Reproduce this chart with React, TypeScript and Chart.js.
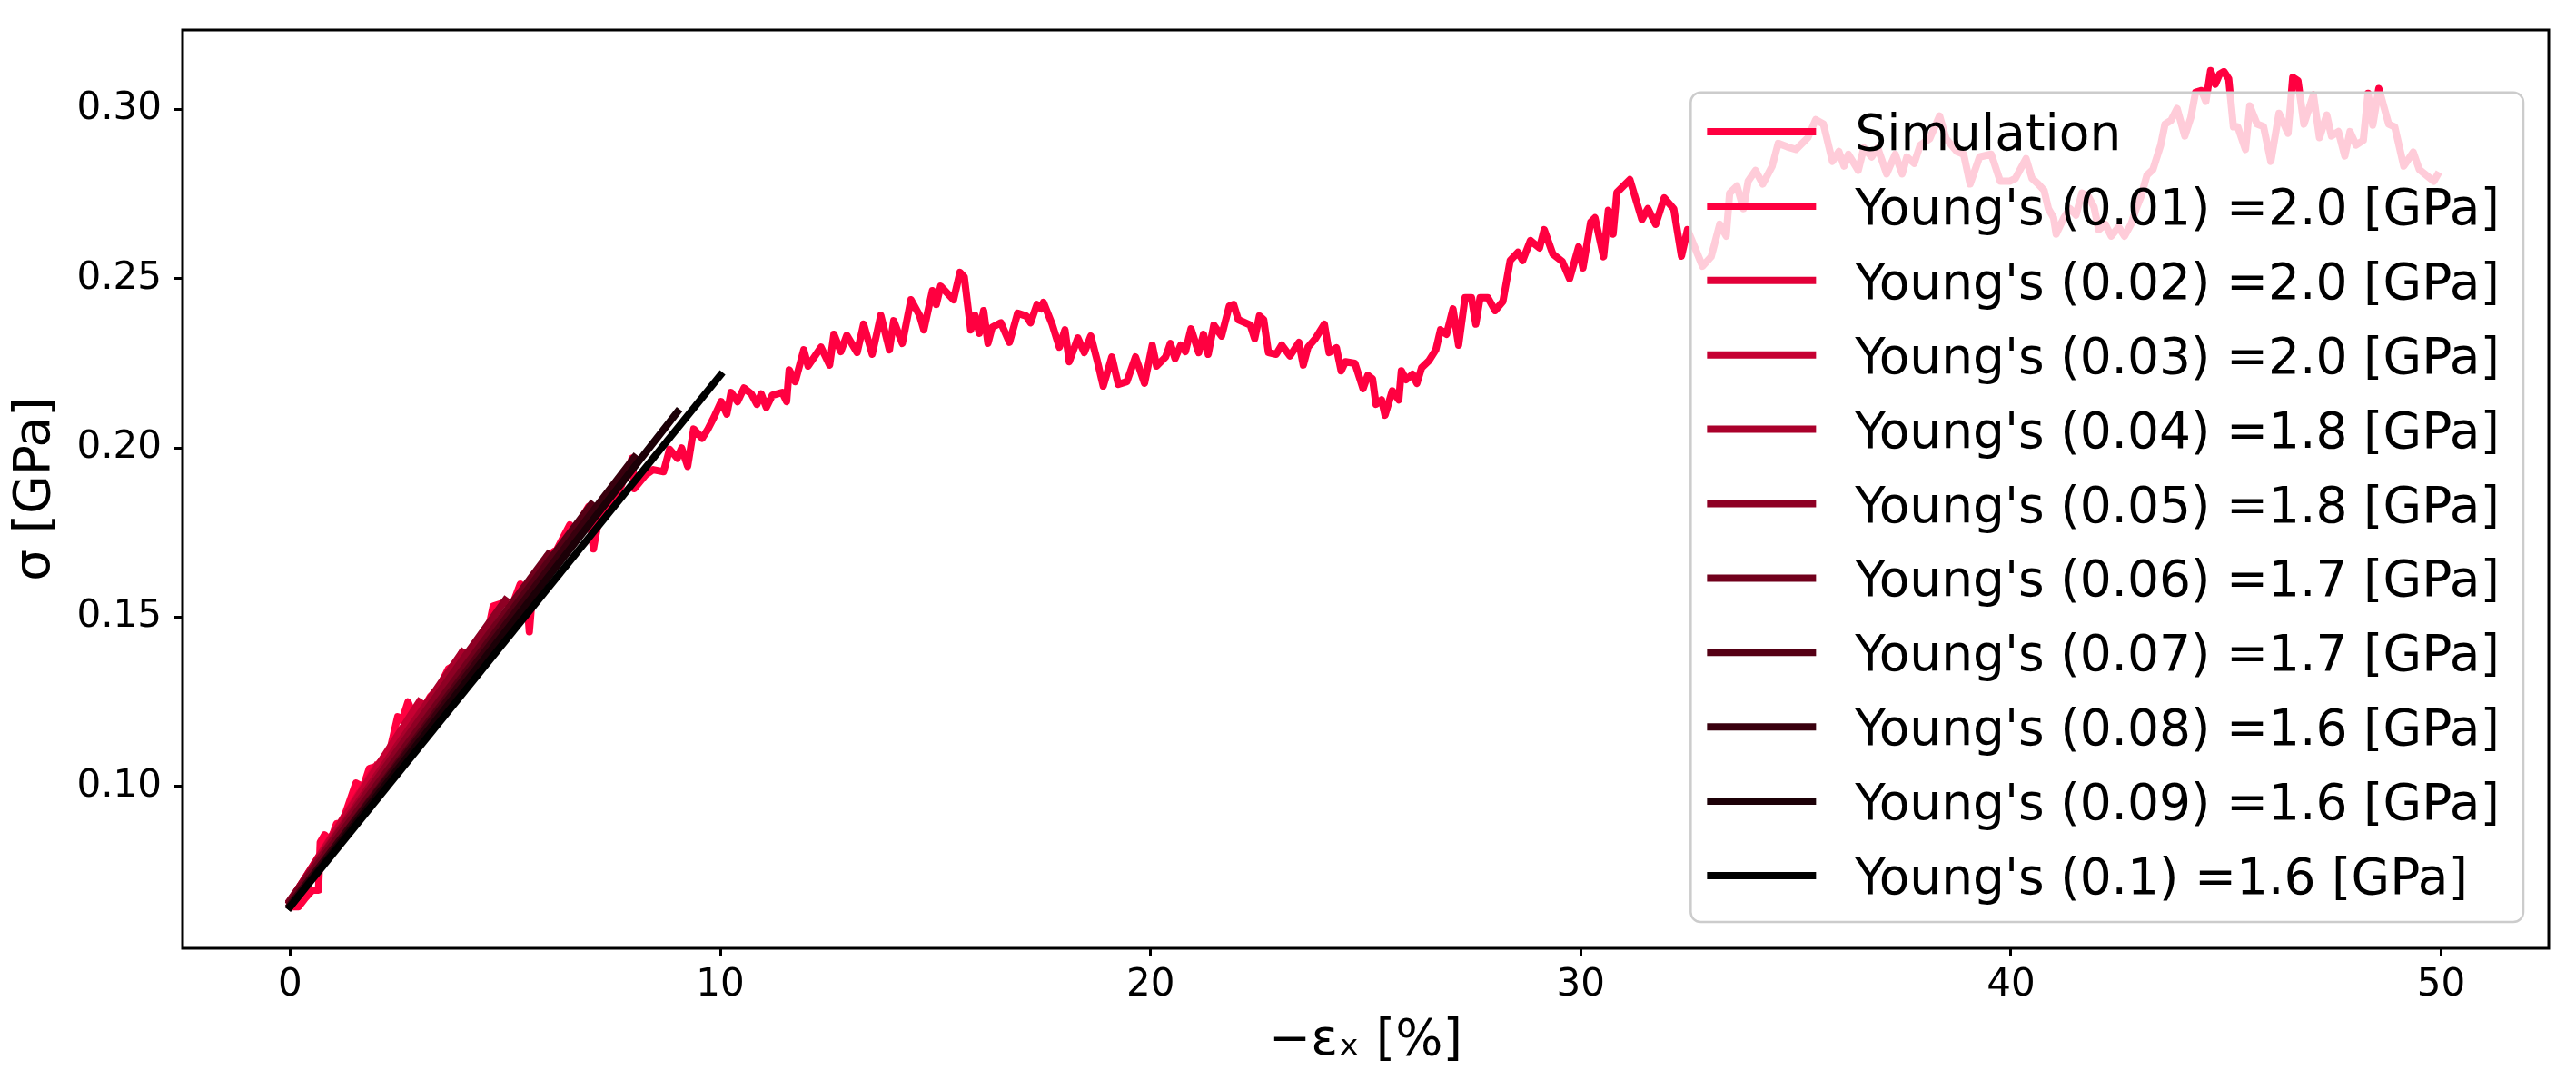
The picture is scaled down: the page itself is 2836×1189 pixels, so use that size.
import React, { useEffect, useRef } from "react";
import { Chart, registerables } from "chart.js";

Chart.register(...registerables);

// ---- data ----
const STRAIN = [
  0.0, 0.2, 0.35, 0.52, 0.66, 0.7, 0.8, 0.94, 1.08, 1.2, 1.32, 1.53, 1.7, 1.84, 2.0, 2.15, 2.33, 2.5, 2.6, 2.74,
  2.88, 3.02, 3.16, 3.26, 3.45, 3.68, 3.85, 4.0, 4.17, 4.4, 4.6, 4.72, 5.0, 5.14, 5.35, 5.5, 5.56, 5.6, 5.8, 5.97,
  6.2, 6.5, 6.6, 6.94, 7.05, 7.15, 7.4, 7.7, 7.95, 8.0, 8.26, 8.44, 8.68, 8.82, 9.0, 9.1, 9.24, 9.38, 9.58, 9.7,
  9.85, 10.02, 10.15, 10.25, 10.4, 10.55, 10.72, 10.85, 10.95, 11.07, 11.21, 11.44, 11.54, 11.6, 11.74, 11.94, 12.04, 12.34, 12.54, 12.64,
  12.8, 12.94, 13.18, 13.33, 13.53, 13.73, 13.93, 14.03, 14.23, 14.43, 14.63, 14.73, 14.93, 15.02, 15.12, 15.42, 15.57, 15.67, 15.82, 15.92,
  16.02, 16.12, 16.22, 16.32, 16.52, 16.72, 16.91, 17.11, 17.21, 17.36, 17.46, 17.51, 17.71, 17.88, 18.01, 18.11, 18.31, 18.46, 18.61, 18.76,
  18.9, 19.1, 19.25, 19.45, 19.65, 19.86, 20.04, 20.14, 20.35, 20.46, 20.57, 20.7, 20.81, 20.94, 21.12, 21.23, 21.34, 21.47, 21.65, 21.83,
  21.93, 22.04, 22.32, 22.42, 22.53, 22.63, 22.74, 22.92, 23.05, 23.24, 23.45, 23.55, 23.66, 23.83, 24.04, 24.15, 24.32, 24.43, 24.53, 24.75,
  24.94, 25.05, 25.16, 25.24, 25.37, 25.45, 25.62, 25.77, 25.83, 25.94, 26.09, 26.19, 26.3, 26.47, 26.63, 26.74, 26.88, 27.03, 27.16, 27.31,
  27.46, 27.56, 27.66, 27.84, 28.01, 28.19, 28.36, 28.54, 28.65, 28.83, 29.04, 29.15, 29.35, 29.57, 29.74, 29.95, 30.05, 30.23, 30.33, 30.53,
  30.64, 30.75, 30.84, 31.14, 31.42, 31.56, 31.74, 31.94, 32.16, 32.34, 32.48, 32.83, 33.03, 33.23, 33.38, 33.46, 33.63, 33.78, 33.89, 34.06,
  34.23, 34.45, 34.59, 34.8, 35.0, 35.28, 35.46, 35.64, 35.85, 36.0, 36.12, 36.22, 36.45, 36.58, 36.76, 36.9, 37.11, 37.31, 37.47, 37.58,
  37.75, 37.89, 38.11, 38.34, 38.49, 38.74, 38.9, 39.05, 39.27, 39.54, 39.75, 39.97, 40.1, 40.35, 40.49, 40.63, 40.77, 40.87, 40.99, 41.05,
  41.23, 41.37, 41.51, 41.65, 41.79, 41.93, 42.04, 42.19, 42.33, 42.5, 42.64, 42.79, 42.91, 43.02, 43.16, 43.3, 43.48, 43.58, 43.72, 43.86,
  44.04, 44.18, 44.29, 44.43, 44.53, 44.64, 44.75, 44.85, 44.95, 45.06, 45.17, 45.27, 45.45, 45.55, 45.72, 45.87, 46.04, 46.23, 46.44, 46.55,
  46.67, 46.81, 47.03, 47.17, 47.34, 47.45, 47.61, 47.76, 47.88, 48.02, 48.19, 48.3, 48.41, 48.55, 48.78, 48.92, 49.13, 49.35, 49.49, 49.83,
  49.95,
];

const STRESS = [
  0.0645, 0.0645, 0.067, 0.0694, 0.0694, 0.0835, 0.0857, 0.084, 0.089, 0.089, 0.0933, 0.101, 0.0999, 0.1053, 0.1059, 0.108, 0.1113, 0.1206, 0.1195, 0.125,
  0.1206, 0.1244, 0.1244, 0.1266, 0.129, 0.1348, 0.136, 0.1397, 0.139, 0.143, 0.146, 0.1533, 0.1544, 0.1527, 0.1598, 0.156, 0.1457, 0.152, 0.16, 0.168,
  0.17, 0.1773, 0.1756, 0.1827, 0.1702, 0.1773, 0.182, 0.189, 0.197, 0.188, 0.192, 0.1936, 0.193, 0.1996, 0.197, 0.2, 0.1946, 0.2056, 0.2029, 0.2053,
  0.209, 0.2137, 0.21, 0.2164, 0.2137, 0.2177, 0.216, 0.2129, 0.216, 0.212, 0.2156, 0.2164, 0.2137, 0.2231, 0.2196, 0.229, 0.2242, 0.2298, 0.2245, 0.2336,
  0.2285, 0.2333, 0.2282, 0.2366, 0.2277, 0.2392, 0.229, 0.2376, 0.2309, 0.2438, 0.2392, 0.2349, 0.2465, 0.2424, 0.2478, 0.2438, 0.2519, 0.2505, 0.2349, 0.2392,
  0.2339, 0.2406, 0.2309, 0.2357, 0.237, 0.2312, 0.2398, 0.239, 0.237, 0.2424, 0.2411, 0.243, 0.2366, 0.2298, 0.2349, 0.2255, 0.2325, 0.2282, 0.2331, 0.2258,
  0.2183, 0.2269, 0.2188, 0.2196, 0.2269, 0.2191, 0.2304, 0.2242, 0.2269, 0.2309, 0.2264, 0.2304, 0.2285, 0.2352, 0.2282, 0.2336, 0.2277, 0.2363, 0.2331, 0.2419,
  0.2424, 0.2379, 0.2363, 0.2323, 0.239, 0.2379, 0.2282, 0.2277, 0.2304, 0.2272, 0.2312, 0.2245, 0.2298, 0.2323, 0.2366, 0.2282, 0.2296, 0.2228, 0.2255, 0.225,
  0.2175, 0.2215, 0.2204, 0.2129, 0.2142, 0.2097, 0.2169, 0.2142, 0.2228, 0.2202, 0.2218, 0.2191, 0.2237, 0.2258, 0.229, 0.2349, 0.2336, 0.2411, 0.2304, 0.2444,
  0.2444, 0.2366, 0.2444, 0.2444, 0.2406, 0.2433, 0.2554, 0.2578, 0.2554, 0.2613, 0.2591, 0.2645, 0.2573, 0.2551, 0.25, 0.2594, 0.2532, 0.2667, 0.268, 0.2565,
  0.2702, 0.2632, 0.2755, 0.2793, 0.2675, 0.2707, 0.2661, 0.2739, 0.2707, 0.2567, 0.2645, 0.2537, 0.2565, 0.2661, 0.2626, 0.2753, 0.2774, 0.2707, 0.2788, 0.282,
  0.278, 0.2833, 0.29, 0.289, 0.2882, 0.2917, 0.297, 0.2957, 0.2847, 0.2876, 0.2833, 0.2868, 0.282, 0.2887, 0.286, 0.2887, 0.281, 0.2868, 0.281, 0.286,
  0.2841, 0.2895, 0.2914, 0.2981, 0.2914, 0.2876, 0.2868, 0.278, 0.286, 0.2868, 0.2788, 0.2788, 0.2796, 0.2855, 0.2796, 0.278, 0.2761, 0.2707, 0.268, 0.2632,
  0.268, 0.2707, 0.2688, 0.2753, 0.2745, 0.2712, 0.2645, 0.2661, 0.2626, 0.2653, 0.2626, 0.2661, 0.2707, 0.2742, 0.2806, 0.2823, 0.2895, 0.2957, 0.2968, 0.3003,
  0.2922, 0.2976, 0.3051, 0.3056, 0.3024, 0.3115, 0.3075, 0.3105, 0.3112, 0.3091, 0.2949, 0.2949, 0.2882, 0.3011, 0.2957, 0.295, 0.2847, 0.2989, 0.293, 0.3095,
  0.3085, 0.2957, 0.3043, 0.2917, 0.2984, 0.2922, 0.2935, 0.2863, 0.2935, 0.2895, 0.2909, 0.3048, 0.2954, 0.3062, 0.2957, 0.2949, 0.2833, 0.2874, 0.2823, 0.2788,
  0.2815,
];

const FIT_RANGE = ["0.01", "0.02", "0.03", "0.04", "0.05", "0.06", "0.07", "0.08", "0.09", "0.1"];
const FIT_MODULUS = [2.0, 2.0, 2.0, 1.8, 1.8, 1.7, 1.7, 1.6, 1.6, 1.6];
const FIT_END_STRAIN = [1, 2, 3, 4, 5, 6, 7, 8, 9, 10];
const FIT_START_STRESS = [0.066, 0.066, 0.066, 0.0663, 0.0665, 0.066, 0.0646, 0.065, 0.0645, 0.0645];
const FIT_END_STRESS = [0.086, 0.106, 0.125, 0.1397, 0.155, 0.1686, 0.1833, 0.1972, 0.2106, 0.2215];

const X_TICKS = [0, 10, 20, 30, 40, 50];
const Y_TICKS = [0.1, 0.15, 0.2, 0.25, 0.3];

// ---- styles ----
const SIM_COLOR = "#ff0040";
const FIT_COLORS = ["#ff0040", "#e30039", "#c60032", "#aa002b", "#8e0024", "#71001c", "#550015", "#39000e", "#1c0007", "#000000"];
const FONT = '"DejaVu Sans", sans-serif';
const LINE_W = 8;

const framePlugin = {
  id: "mplFrameLegend",
  afterDatasetsDraw(chart: any) {
    const ctx: CanvasRenderingContext2D = chart.ctx;
    const a = chart.chartArea;
    ctx.save();
    // axes frame
    ctx.strokeStyle = "#000";
    ctx.lineWidth = 3;
    ctx.strokeRect(a.left, a.top, a.right - a.left, a.bottom - a.top);

    // legend
    const fs = 55;
    ctx.font = `${fs}px ${FONT}`;
    const items = chart.data.datasets.map((d: any) => ({ label: d.label, color: d.borderColor }));
    const textW = Math.max(...items.map((it: any) => ctx.measureText(it.label).width));
    const padL = 18, handleLen = 120, gap = 43, padR = 26;
    const pitch = 81.9, topPad = 43.3, botPad = 51;
    const right = a.right - 28;
    const bottom = a.bottom - 29;
    const w = padL + handleLen + gap + textW + padR;
    const h = topPad + pitch * (items.length - 1) + botPad;
    const left = right - w;
    const top = bottom - h;
    ctx.beginPath();
    if ((ctx as any).roundRect) (ctx as any).roundRect(left, top, w, h, 11);
    else ctx.rect(left, top, w, h);
    ctx.fillStyle = "rgba(255,255,255,0.8)";
    ctx.fill();
    ctx.strokeStyle = "#cccccc";
    ctx.lineWidth = 2.5;
    ctx.stroke();

    items.forEach((it: any, i: number) => {
      const y = top + topPad + i * pitch;
      ctx.beginPath();
      ctx.strokeStyle = it.color;
      ctx.lineWidth = LINE_W;
      ctx.lineCap = "butt";
      ctx.moveTo(left + padL, y);
      ctx.lineTo(left + padL + handleLen, y);
      ctx.stroke();
      ctx.fillStyle = "#000";
      ctx.textAlign = "left";
      ctx.textBaseline = "alphabetic";
      ctx.fillText(it.label, left + padL + handleLen + gap, y + 0.365 * fs);
    });
    ctx.restore();
  },
};

export default function App() {
  const ref = useRef<HTMLCanvasElement | null>(null);

  useEffect(() => {
    if (!ref.current) return;
    Chart.defaults.font.family = FONT;
    Chart.defaults.color = "#000";

    const simData = STRAIN.map((x, i) => ({ x, y: STRESS[i] }));
    const datasets: any[] = [
      {
        label: "Simulation",
        data: simData,
        borderColor: SIM_COLOR,
        backgroundColor: SIM_COLOR,
        borderWidth: LINE_W,
        pointRadius: 0,
        showLine: true,
        fill: false,
        tension: 0,
        borderJoinStyle: "round",
        order: 20,
      },
    ];
    FIT_RANGE.forEach((r, i) => {
      datasets.push({
        label: `Young's (${r}) =${FIT_MODULUS[i].toFixed(1)} [GPa]`,
        data: [
          { x: 0, y: FIT_START_STRESS[i] },
          { x: FIT_END_STRAIN[i], y: FIT_END_STRESS[i] },
        ],
        borderColor: FIT_COLORS[i],
        backgroundColor: FIT_COLORS[i],
        borderWidth: LINE_W,
        borderCapStyle: "square",
        pointRadius: 0,
        showLine: true,
        fill: false,
        order: 10 - i,
      });
    });

    const tickFont = { size: 42, family: FONT };
    const titleFont = { size: 55, family: FONT };
    const grid = {
      display: true,
      drawOnChartArea: false,
      drawTicks: true,
      tickLength: 9,
      tickWidth: 3,
      tickColor: "#000",
    };

    const chart = new Chart(ref.current, {
      type: "scatter",
      data: { datasets },
      options: {
        responsive: false,
        devicePixelRatio: 1,
        animation: false,
        events: [],
        layout: { padding: { top: 33, right: 30, left: 0, bottom: 0 } },
        plugins: { legend: { display: false }, tooltip: { enabled: false } },
        scales: {
          x: {
            type: "linear",
            min: -2.5,
            max: 52.5,
            afterBuildTicks: (s: any) => {
              s.ticks = X_TICKS.map((v) => ({ value: v }));
            },
            afterFit: (s: any) => {
              s.height = 145;
              s.paddingLeft = 0;
              s.paddingRight = 0;
            },
            ticks: {
              font: tickFont,
              color: "#000",
              padding: 7,
              maxRotation: 0,
              autoSkip: false,
              callback: (v: any) => String(v),
            },
            grid,
            border: { display: false },
            title: {
              display: true,
              text: "−εₓ [%]",
              font: titleFont,
              color: "#000",
              padding: { top: 0, bottom: 9 },
            },
          },
          y: {
            type: "linear",
            min: 0.0522,
            max: 0.3235,
            afterBuildTicks: (s: any) => {
              s.ticks = Y_TICKS.map((v) => ({ value: v }));
            },
            afterFit: (s: any) => {
              s.width = 201;
              s.paddingTop = 0;
              s.paddingBottom = 0;
            },
            ticks: {
              font: tickFont,
              color: "#000",
              padding: 14,
              autoSkip: false,
              callback: (v: any) => Number(v).toFixed(2),
            },
            grid,
            border: { display: false },
            title: {
              display: true,
              text: "σ [GPa]",
              font: titleFont,
              color: "#000",
              padding: { top: 7, bottom: 0 },
            },
          },
        },
      },
      plugins: [framePlugin],
    } as any);

    return () => chart.destroy();
  }, []);

  return (
    <div style={{ position: "absolute", left: 0, top: 0, width: 2836, height: 1189, background: "#fff" }}>
      <canvas ref={ref} width={2836} height={1189} style={{ display: "block", width: 2836, height: 1189 }} />
    </div>
  );
}
